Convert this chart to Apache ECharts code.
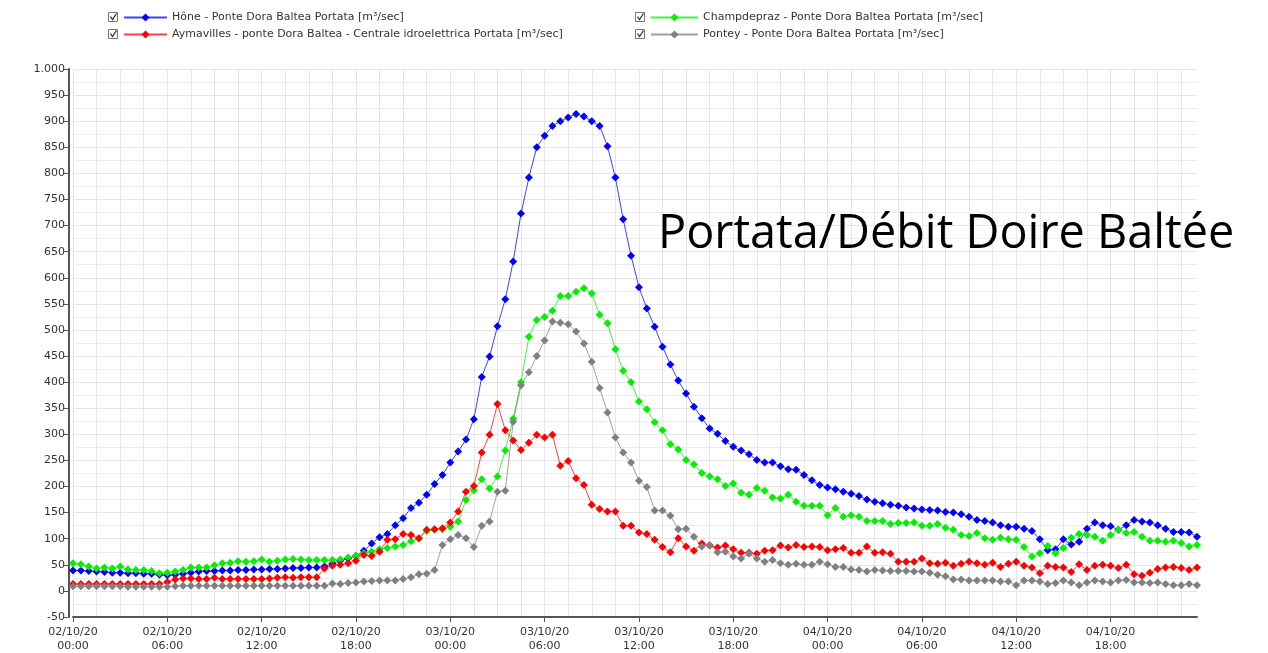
<!DOCTYPE html>
<html lang="it">
<head>
    <meta charset="UTF-8">
    <title>Portata/Débit Doire Baltée</title>
    <script src="https://cdn.jsdelivr.net/npm/echarts@6.0.0/dist/echarts.min.js"></script>
    <style>
        body { margin: 0; background: #fff; }
        #chart { width: 1268px; height: 653px; }
    </style>
</head>
<body>
    <div id="chart"></div>
    <script>
        // etichette asse x: ogni 30 minuti dal 02/10/20 00:00 al 04/10/20 23:30
        const days = ['02/10/20', '03/10/20', '04/10/20'];
        const times = [];
        days.forEach(d => {
            for (let h = 0; h < 24; h++) {
                ['00', '30'].forEach(m => times.push(d + '\n' + String(h).padStart(2, '0') + ':' + m));
            }
        });

        const seriesNames = [
            'Hône - Ponte Dora Baltea Portata [m³/sec]',
            'Champdepraz - Ponte Dora Baltea Portata [m³/sec]',
            'Aymavilles - ponte Dora Baltea - Centrale idroelettrica Portata [m³/sec]',
            'Pontey - Ponte Dora Baltea Portata [m³/sec]'
        ];

        const hone = [
            39,39,38,37,36,35,35,34,34,33,33,31,30,
            31,33,35,37,38,38,39,39,40,40,41,41,
            42,42,43,44,44,45,45,47,52,58,62,67,
            77,91,103,109,126,139,159,169,184,205,222,246,
            267,290,329,410,449,507,559,631,723,792,850,872,
            891,900,907,914,909,900,891,852,792,712,642,582,
            541,506,468,434,403,378,353,331,311,301,287,276,
            269,262,251,246,246,239,233,232,222,212,203,198,
            195,190,186,182,175,171,168,165,163,160,158,156,
            155,154,151,150,147,142,136,134,131,126,123,123,
            119,115,99,78,80,99,89,94,119,131,126,124,
            117,126,136,133,131,126,119,113,113,112,104
        ];
        const champdepraz = [
            53,51,47,43,45,43,47,41,40,40,38,34,35,
            37,40,45,45,45,49,53,54,57,56,57,60,
            56,58,60,61,60,59,59,59,59,60,64,67,
            72,75,80,82,85,88,95,100,115,117,118,123,
            133,174,193,214,196,219,269,330,400,487,519,525,
            537,565,565,573,580,570,529,513,463,422,400,363,
            348,323,308,281,271,251,242,226,219,214,201,206,
            188,184,197,192,179,177,184,171,163,163,163,145,
            159,142,145,142,134,134,134,128,130,130,131,125,
            125,128,121,117,107,105,111,101,98,102,99,98,
            84,66,72,86,72,82,102,109,107,104,96,107,
            117,111,113,104,96,96,94,96,92,85,88
        ];
        const aymavilles = [
            13,13,13,13,13,13,13,13,13,13,13,13,17,
            22,24,24,23,23,25,23,23,23,23,23,23,
            24,25,26,25,26,26,26,43,48,50,53,58,
            69,67,75,98,99,109,107,101,117,118,120,131,
            152,190,201,265,299,358,308,288,270,284,299,294,
            299,240,249,216,203,165,157,152,152,125,125,112,
            109,98,84,74,101,85,77,91,87,83,87,80,
            73,73,71,77,78,87,83,88,84,85,84,78,
            80,82,73,73,85,73,74,71,56,56,56,62,
            53,52,54,48,52,56,53,50,54,46,52,56,
            48,45,34,48,46,45,36,51,40,48,50,48,
            44,50,32,29,35,42,45,46,44,40,45
        ];
        const pontey = [
            9,9,9,9,9,9,9,8,8,8,8,8,8,
            9,10,10,10,10,10,10,10,10,10,10,10,
            10,10,10,10,10,10,10,10,14,13,15,16,
            18,19,20,20,20,23,26,32,33,40,88,99,
            107,101,84,125,133,190,192,324,394,419,450,480,
            516,514,511,497,474,439,389,342,294,265,246,211,
            199,154,154,144,118,119,104,85,88,74,75,66,
            62,71,62,56,59,53,50,52,50,50,56,51,
            46,46,41,40,37,40,39,38,38,38,37,37,
            35,31,28,22,22,20,20,20,20,18,18,11,
            20,20,18,13,15,20,16,11,16,20,18,16,
            20,21,16,16,15,16,13,11,11,13,11
        ];

        const seriesData = [hone, champdepraz, aymavilles, pontey];
        const seriesColors = ['#0000ff', '#00f000', '#ff0000', '#808080'];

        const font = 'DejaVu Sans, sans-serif';

        // caselle di spunta accanto alla legenda
        function checkbox(x, y) {
            return {
                type: 'group',
                left: x,
                top: y,
                children: [
                    { type: 'rect', shape: { x: 0, y: 0, width: 9, height: 9 }, style: { fill: '#fff', stroke: '#777', lineWidth: 1 } },
                    { type: 'polyline', shape: { points: [[2, 4], [4, 7], [8, 1]] }, style: { stroke: '#333', lineWidth: 1.3, fill: null } }
                ]
            };
        }

        const chart = echarts.init(document.getElementById('chart'));

        const option = {
            animation: false,
            grid: { left: 73, right: 71, top: 69, bottom: 36 },
            legend: [
                {
                    data: [seriesNames[0], seriesNames[2]],
                    orient: 'vertical',
                    left: 118, top: 7,
                    itemWidth: 43, itemHeight: 10, itemGap: 6,
                    textStyle: { fontSize: 11, fontFamily: font, color: '#333' }
                },
                {
                    data: [seriesNames[1], seriesNames[3]],
                    orient: 'vertical',
                    left: 645, top: 7,
                    itemWidth: 47, itemHeight: 10, itemGap: 6,
                    textStyle: { fontSize: 11, fontFamily: font, color: '#333' }
                }
            ],
            graphic: [
                checkbox(108, 11), checkbox(108, 28),
                checkbox(635, 11), checkbox(635, 28),
                {
                    type: 'text',
                    left: 658, top: 210,
                    z: 100,
                    scaleX: 0.975,
                    style: {
                        text: 'Portata/Débit Doire Baltée',
                        font: '48px "Open Sans", sans-serif',
                        fill: '#000'
                    }
                }
            ],
            xAxis: {
                type: 'category',
                data: times,
                boundaryGap: false,
                axisLine: { onZero: false, lineStyle: { color: '#555', width: 2 } },
                axisTick: { interval: 11, length: 5, lineStyle: { color: '#555' } },
                axisLabel: { interval: 11, color: '#333', fontSize: 11, fontFamily: font, lineHeight: 14, margin: 8 },
                splitLine: { show: true, interval: 2, lineStyle: { color: '#e6e6e6' } }
            },
            yAxis: {
                type: 'value',
                min: -50, max: 1000, interval: 50,
                offset: 4,
                axisLine: { show: true, lineStyle: { color: '#555', width: 2 } },
                axisTick: { show: true, length: 5, lineStyle: { color: '#555' } },
                axisLabel: {
                    color: '#333', fontSize: 11, fontFamily: font, margin: 4,
                    formatter: v => v >= 1000 ? '1.000' : String(v)
                },
                splitLine: { lineStyle: { color: '#e6e6e6' } },
                minorTick: { show: false, splitNumber: 2 },
                minorSplitLine: { show: true, lineStyle: { color: '#ececec' } }
            },
            series: seriesNames.map((name, k) => ({
                name: name,
                type: 'line',
                data: seriesData[k],
                symbol: 'diamond',
                symbolSize: 8,
                showAllSymbol: true,
                color: seriesColors[k],
                lineStyle: { width: 1, color: seriesColors[k], opacity: 0.75 },
                itemStyle: { color: seriesColors[k] }
            }))
        };

        chart.setOption(option);
    </script>
</body>
</html>
